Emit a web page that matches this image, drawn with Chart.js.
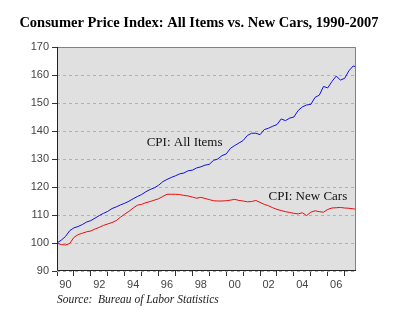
<!DOCTYPE html>
<html>
<head>
<meta charset="utf-8">
<script src="https://cdn.jsdelivr.net/npm/chart.js@4.4.1/dist/chart.umd.min.js"></script>
<style>
  html, body { margin: 0; padding: 0; background: #fff; }
  canvas { display: block; }
</style>
</head>
<body>
<canvas id="cpi-chart" width="400" height="325"></canvas>
<script>
// data (index, 1990 = 100), quarterly
const dates = [
  1990.00, 1990.25, 1990.50, 1990.75, 1991.00, 1991.25, 1991.50, 1991.75,
  1992.00, 1992.25, 1992.50, 1992.75, 1993.00, 1993.25, 1993.50, 1993.75,
  1994.00, 1994.25, 1994.50, 1994.75, 1995.00, 1995.25, 1995.50, 1995.75,
  1996.00, 1996.25, 1996.50, 1996.75, 1997.00, 1997.25, 1997.50, 1997.75,
  1998.00, 1998.25, 1998.50, 1998.75, 1999.00, 1999.25, 1999.50, 1999.75,
  2000.00, 2000.25, 2000.50, 2000.75, 2001.00, 2001.25, 2001.50, 2001.75,
  2002.00, 2002.25, 2002.50, 2002.75, 2003.00, 2003.25, 2003.50, 2003.75,
  2004.00, 2004.25, 2004.50, 2004.75, 2005.00, 2005.25, 2005.50, 2005.75,
  2006.00, 2006.25, 2006.50, 2006.75, 2007.00, 2007.25, 2007.50, 2007.65
];

const allItems = [
  100.0, 101.0, 102.3, 104.4, 105.4, 105.9, 106.6, 107.5,
  108.0, 108.9, 109.8, 110.6, 111.3, 112.3, 112.9, 113.6,
  114.2, 114.9, 115.8, 116.6, 117.3, 118.3, 119.1, 119.7,
  120.6, 121.9, 122.7, 123.4, 124.0, 124.7, 125.0, 125.8,
  126.0, 126.8, 127.2, 127.8, 128.1, 129.5, 130.0, 131.2,
  131.8, 133.8, 134.8, 135.7, 136.6, 138.4, 139.2, 139.2,
  138.7, 140.5, 141.0, 141.7, 142.3, 144.3, 143.7, 144.6,
  145.0, 147.3, 148.6, 149.3, 149.5, 152.0, 152.8, 155.9,
  155.4, 157.7, 159.6, 158.2, 158.8, 161.5, 163.2, 163.0
];

const newCars = [
  100.0, 99.4, 99.3, 99.8, 102.0, 103.0, 103.5, 104.0,
  104.3, 105.0, 105.6, 106.3, 106.8, 107.3, 108.0, 109.2,
  110.3, 111.3, 112.5, 113.5, 113.8, 114.4, 114.8, 115.3,
  115.8, 116.6, 117.4, 117.4, 117.4, 117.3, 117.0, 116.8,
  116.4, 116.0, 116.3, 115.9, 115.5, 115.1, 115.0, 115.0,
  115.1, 115.3, 115.6, 115.2, 115.0, 114.7, 114.8, 115.2,
  114.5, 113.8, 113.3, 112.6, 112.0, 111.6, 111.2, 110.9,
  110.6, 110.4, 110.8, 109.8, 111.0, 111.5, 111.2, 111.0,
  112.0, 112.5, 112.6, 112.7, 112.5, 112.4, 112.2, 112.1
];

const yearTicks = [1990, 1991, 1992, 1993, 1994, 1995, 1996, 1997, 1998,
  1999, 2000, 2001, 2002, 2003, 2004, 2005, 2006, 2007];

const titleText = "Consumer Price Index: All Items vs. New Cars, 1990-2007";
const sourceText = "Source:  Bureau of Labor Statistics";

// label name, anchor year, anchor value
const seriesLabels = [
  ["CPI: All Items", 1995.3, 135.8],
  ["CPI: New Cars", 2002.5, 116.5]
];

const toPoints = (vals) => vals.map((v, i) => ({ x: dates[i], y: v }));

const extras = {
  id: "extras",
  beforeDraw(chart) {
    const { ctx, chartArea: a } = chart;
    ctx.save();
    ctx.fillStyle = "#fff";
    ctx.fillRect(0, 0, chart.width, chart.height);
    ctx.fillStyle = "#e0e0e0";
    ctx.fillRect(a.left, a.top, a.right - a.left, a.bottom - a.top);
    ctx.restore();
  },
  afterDraw(chart) {
    const { ctx, chartArea: a, scales } = chart;
    ctx.save();
    // frame
    ctx.lineWidth = 1;
    ctx.strokeStyle = "#808080";
    ctx.beginPath();
    ctx.moveTo(a.left, a.top + 0.5);
    ctx.lineTo(a.right - 0.5, a.top + 0.5);
    ctx.lineTo(a.right - 0.5, a.bottom);
    ctx.stroke();
    ctx.strokeStyle = "#222";
    ctx.beginPath();
    ctx.moveTo(a.left + 0.5, a.top);
    ctx.lineTo(a.left + 0.5, a.bottom - 0.5);
    ctx.lineTo(a.right, a.bottom - 0.5);
    ctx.stroke();

    // title
    ctx.fillStyle = "#000";
    ctx.font = "bold 14.5px 'Liberation Serif', serif";
    ctx.textAlign = "center";
    ctx.textBaseline = "alphabetic";
    ctx.fillText(titleText, 199, 27);

    // series names
    ctx.font = "13px 'Liberation Serif', serif";
    ctx.textAlign = "left";
    ctx.textBaseline = "middle";
    ctx.fillStyle = "#111";
    seriesLabels.forEach(([txt, xv, yv]) => {
      ctx.fillText(txt, scales.x.getPixelForValue(xv), scales.y.getPixelForValue(yv));
    });

    // source
    ctx.font = "italic 11.5px 'Liberation Serif', serif";
    ctx.fillStyle = "#222";
    ctx.fillText(sourceText, a.left, 300);
    ctx.restore();
  }
};

const chart = new Chart(document.getElementById("cpi-chart"), {
  type: "line",
  data: {
    datasets: [
      {
        label: "CPI: All Items",
        data: toPoints(allItems),
        borderColor: "#1010e8",
        borderWidth: 1,
        pointRadius: 0,
        tension: 0
      },
      {
        label: "CPI: New Cars",
        data: toPoints(newCars),
        borderColor: "#e81010",
        borderWidth: 1,
        pointRadius: 0,
        tension: 0
      }
    ]
  },
  options: {
    responsive: false,
    animation: false,
    devicePixelRatio: 1,
    layout: { padding: { top: 47, right: 44, bottom: 34, left: 0 } },
    plugins: {
      legend: { display: false },
      tooltip: { enabled: false }
    },
    scales: {
      x: {
        type: "linear",
        min: 1990,
        max: 2007.67,
        afterFit: (s) => { s.height = 20; },
        afterBuildTicks: (s) => { s.ticks = yearTicks.map((v) => ({ value: v })); },
        grid: { drawOnChartArea: false, tickLength: 5, tickColor: "#333" },
        border: { display: false },
        ticks: {
          autoSkip: false,
          maxRotation: 0,
          padding: 2,
          labelOffset: 8.45,
          color: "#444",
          font: { family: "'Liberation Sans', Arial, sans-serif", size: 11 },
          callback: (v) => (v % 2 === 0 ? String(v % 100).padStart(2, "0") : "")
        }
      },
      y: {
        min: 90,
        max: 170,
        afterFit: (s) => { s.width = 57; },
        grid: { color: "#b0b0b0", tickLength: 5, tickColor: "#333" },
        border: { display: false, dash: [3, 3] },
        ticks: {
          stepSize: 10,
          padding: 3,
          color: "#444",
          font: { family: "'Liberation Sans', Arial, sans-serif", size: 11 }
        }
      }
    }
  },
  plugins: [extras]
});
</script>
</body>
</html>
